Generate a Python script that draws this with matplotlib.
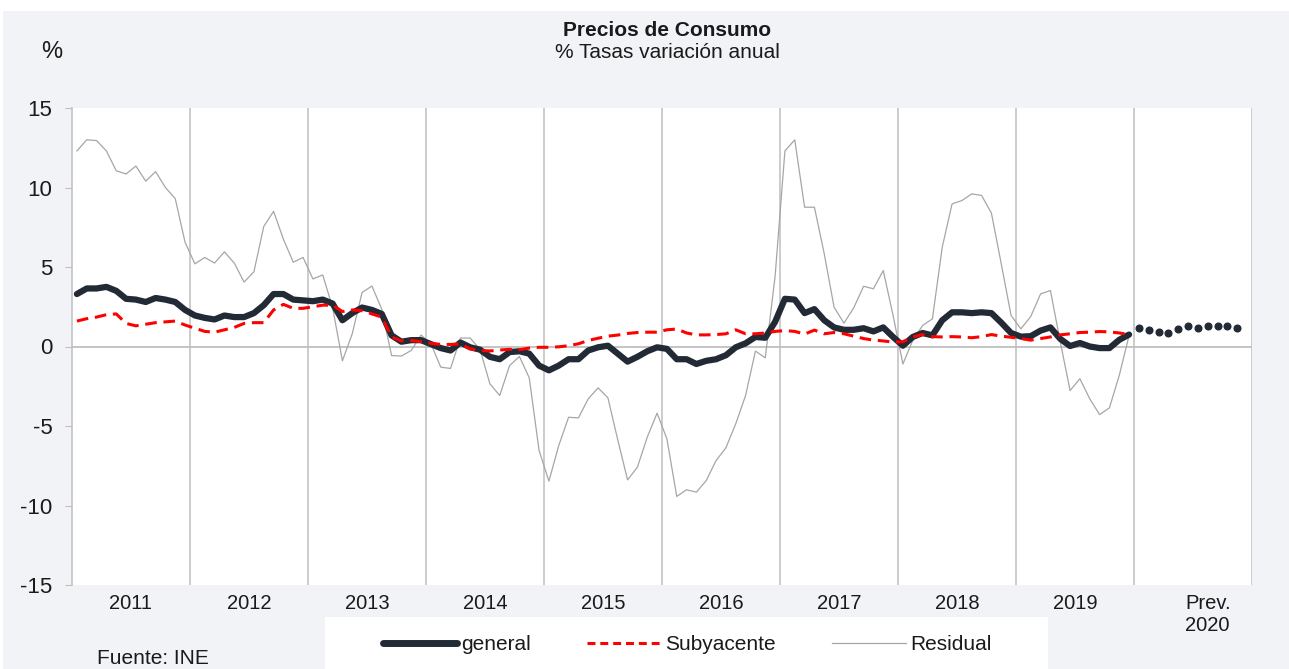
import matplotlib
matplotlib.use("Agg")
import numpy as np
import matplotlib.pyplot as plt
from matplotlib.patches import Rectangle
from matplotlib.lines import Line2D

plt.rcParams['font.family'] = ['Liberation Sans', 'DejaVu Sans']
plt.rcParams['axes.unicode_minus'] = False

# Datos: tasas de variacion anual (%), mensual 2011-2019
years = ['2011', '2012', '2013', '2014', '2015', '2016', '2017', '2018', '2019']

general = [
    3.3, 3.65, 3.65, 3.75, 3.5, 3.0, 2.95, 2.8, 3.05, 2.95, 2.8, 2.3,
    1.95, 1.8, 1.7, 1.95, 1.85, 1.85, 2.1, 2.6, 3.3, 3.3, 2.95, 2.9,
    2.85, 2.95, 2.7, 1.65, 2.1, 2.45, 2.3, 2.05, 0.7, 0.3, 0.4, 0.4,
    0.15, -0.1, -0.25, 0.25, -0.05, -0.2, -0.65, -0.8, -0.35, -0.3, -0.45, -1.2,
    -1.5, -1.2, -0.8, -0.8, -0.25, -0.05, 0.05, -0.45, -0.95, -0.65, -0.3, -0.05,
    -0.15, -0.8, -0.8, -1.1, -0.9, -0.8, -0.55, -0.05, 0.2, 0.6, 0.55, 1.55,
    3.0, 2.95, 2.1, 2.35, 1.65, 1.2, 1.05, 1.05, 1.15, 0.95, 1.2, 0.6,
    0.05, 0.6, 0.85, 0.7, 1.65, 2.15, 2.15, 2.1, 2.15, 2.1, 1.5, 0.85,
    0.62, 0.65, 1.0, 1.2, 0.48, 0.03, 0.22, 0.0, -0.1, -0.1, 0.42, 0.75,
]

subyacente = [
    1.6, 1.75, 1.85, 2.0, 2.05, 1.45, 1.3, 1.4, 1.5, 1.55, 1.6, 1.35,
    1.15, 0.95, 0.9, 1.05, 1.2, 1.45, 1.5, 1.5, 2.3, 2.65, 2.4, 2.4,
    2.5, 2.6, 2.6, 2.2, 2.3, 2.25, 2.05, 1.85, 0.6, 0.35, 0.38, 0.3,
    0.2, 0.13, 0.13, 0.17, -0.15, -0.25, -0.28, -0.22, -0.18, -0.2, -0.1, -0.05,
    -0.05, -0.02, 0.05, 0.17, 0.38, 0.52, 0.65, 0.72, 0.82, 0.88, 0.9, 0.9,
    1.05, 1.1, 0.85, 0.73, 0.73, 0.75, 0.8, 1.05, 0.8, 0.8, 0.85, 0.95,
    1.0, 0.95, 0.78, 1.03, 0.8, 0.88, 0.8, 0.65, 0.5, 0.4, 0.35, 0.28,
    0.3, 0.6, 0.75, 0.62, 0.6, 0.62, 0.6, 0.55, 0.62, 0.75, 0.65, 0.58,
    0.5, 0.4, 0.5, 0.6, 0.73, 0.8, 0.88, 0.9, 0.94, 0.92, 0.85, 0.75,
]

residual = [
    12.3, 13.0, 12.95, 12.3, 11.05, 10.85, 11.35, 10.4, 11.0, 10.0, 9.3, 6.55,
    5.2, 5.6, 5.25, 5.95, 5.25, 4.05, 4.7, 7.55, 8.5, 6.75, 5.3, 5.6,
    4.25, 4.5, 2.45, -0.9, 0.8, 3.4, 3.8, 2.35, -0.57, -0.6, -0.25, 0.72,
    0.17, -1.3, -1.38, 0.53, 0.53, -0.2, -2.35, -3.08, -1.2, -0.63, -1.97, -6.54,
    -8.47, -6.23, -4.45, -4.49, -3.29, -2.6, -3.23, -5.87, -8.39, -7.59, -5.7, -4.19,
    -5.81, -9.43, -9.01, -9.16, -8.43, -7.17, -6.37, -4.86, -3.08, -0.29, -0.71, 4.4,
    12.3, 13.0, 8.76, 8.76, 5.83, 2.47, 1.47, 2.43, 3.79, 3.63, 4.78, 1.95,
    -1.1, 0.38, 1.32, 1.74, 6.25, 8.97, 9.18, 9.6, 9.5, 8.39, 5.2, 1.95,
    1.11, 1.89, 3.31, 3.52, 0.3, -2.77, -2.03, -3.29, -4.28, -3.86, -1.82, 0.69,
]

# prevision 2020 (ene-nov)
prevision_2020 = [1.15, 1.04, 0.94, 0.88, 1.09, 1.26, 1.17, 1.26, 1.28, 1.26, 1.17]

W, H = 1289, 669
c_general = '#222A35'
c_sub = '#FF0000'
c_res = '#A6A6A6'
c_grid = '#BFBFBF'
c_text = '#1A1A1A'

fig = plt.figure(figsize=(W / 100, H / 100), dpi=100, facecolor='white')
fig.patches.append(Rectangle((3 / W, 0), 1 - 3 / W, 1 - 11 / H, transform=fig.transFigure,
                             facecolor='#F2F3F7', edgecolor='none', zorder=-10))
fig.patches.append(Rectangle((325 / W, 0), (1048 - 325) / W, (669 - 617) / H, transform=fig.transFigure,
                             facecolor='white', edgecolor='none', zorder=-5))

ax = fig.add_axes([72 / W, 1 - 585 / H, (1252 - 72) / W, (585 - 108) / H])
ax.set_facecolor('white')

n = len(general)
x = np.arange(n) + 0.5
x_prev = n + np.arange(len(prevision_2020)) + 0.5

# separadores de año y linea de cero
for k in range(12, 121, 12):
    ax.axvline(k, color=c_grid, lw=1.1, zorder=1)
ax.axhline(0, color=c_grid, lw=1.3, zorder=1)

ax.plot(x, residual, color=c_res, lw=0.9, zorder=2)
ax.plot(x, general, color=c_general, lw=4.5, solid_capstyle='round', zorder=3)
ax.plot(x, subyacente, color=c_sub, lw=2.2, dashes=(3.8, 2.2), zorder=4)
ax.plot(x_prev, prevision_2020, 'o', color=c_general, ms=4.8, ls='none', zorder=3)

ax.set_xlim(0, 120)
ax.set_ylim(-15, 15)
ax.set_xticks([])
ax.set_yticks(np.arange(-15, 16, 5))
ax.tick_params(axis='y', length=5, color=c_grid, labelsize=16, labelcolor=c_text, pad=9)
for s in ['top', 'right', 'bottom']:
    ax.spines[s].set_visible(False)
ax.spines['left'].set_color(c_grid)
ax.spines['left'].set_linewidth(1.1)

for i, yr in enumerate(years):
    ax.text(12 * i + 6, -16.15, yr, ha='center', va='center', fontsize=14.5, color=c_text)
ax.text(115.5, -16.15, 'Prev.', ha='center', va='center', fontsize=14.5, color=c_text)
ax.text(115.5, -17.55, '2020', ha='center', va='center', fontsize=14.5, color=c_text)

fig.text(52 / W, 1 - 52 / H, '%', ha='center', va='center', fontsize=17, color=c_text)
fig.text(667 / W, 1 - 30 / H, 'Precios de Consumo', ha='center', va='center',
         fontsize=15, fontweight='bold', color=c_text)
fig.text(667 / W, 1 - 53 / H, '% Tasas variación anual', ha='center', va='center',
         fontsize=15, color=c_text)
fig.text(97 / W, 1 - 659 / H, 'Fuente: INE', ha='left', va='center', fontsize=15, color=c_text)

handles = [
    Line2D([], [], color=c_general, lw=5, solid_capstyle='round'),
    Line2D([], [], color=c_sub, lw=2.2, dashes=(2.6, 1.6)),
    Line2D([], [], color=c_res, lw=0.9),
]
fig.legend(handles, ['general', 'Subyacente', 'Residual'], loc='center left',
           bbox_to_anchor=(383 / W, 1 - 645 / H), ncol=3, frameon=False, fontsize=15,
           handlelength=3.55, handletextpad=0.2, columnspacing=2.7, borderpad=0,
           borderaxespad=0, labelcolor=c_text)

fig.savefig('out.png', dpi=100, facecolor=fig.get_facecolor())
